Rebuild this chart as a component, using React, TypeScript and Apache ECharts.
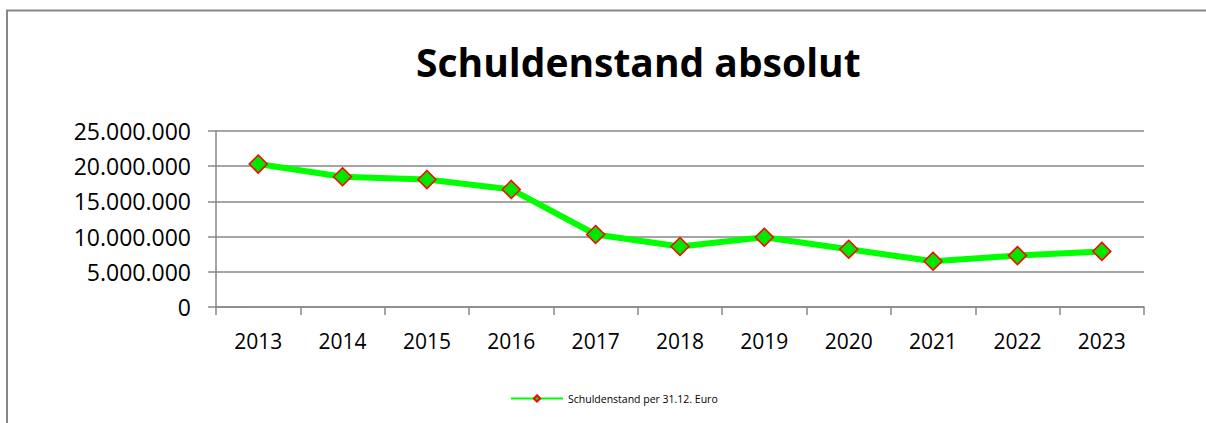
import React, { useEffect, useRef } from "react";
import * as echarts from "echarts";

const years = ["2013", "2014", "2015", "2016", "2017", "2018", "2019", "2020", "2021", "2022", "2023"];
const debt = [20300000, 18500000, 18100000, 16700000, 10300000, 8600000, 9900000, 8200000, 6500000, 7300000, 7900000];
const seriesName = "Schuldenstand per 31.12. Euro";
const titleText = "Schuldenstand absolut";

const fmt = (v: number) => String(Math.round(v)).replace(/\B(?=(\d{3})+(?!\d))/g, ".");

export default function App() {
  const ref = useRef<HTMLDivElement>(null);
  useEffect(() => {
    if (!ref.current) return;
    const chart = echarts.init(ref.current, null, { renderer: "svg" });
    const font = "'Open Sans', 'Noto Sans', sans-serif";
    chart.setOption({
      animation: false,
      backgroundColor: "#ffffff",
      title: {
        text: titleText,
        left: 411,
        top: 37,
        textStyle: { fontFamily: font, fontWeight: "bold", fontSize: 39, color: "#000" },
      },
      graphic: [
        {
          type: "polyline",
          shape: { points: [[7, 423], [7, 10.5], [1206, 10.5]] },
          style: { stroke: "#888888", lineWidth: 2, fill: "none" },
          silent: true,
        },
      ],
      legend: {
        left: 505,
        top: 388,
        itemWidth: 52,
        itemHeight: 8,
        itemGap: 6,
        textStyle: { fontFamily: font, fontSize: 10.5, color: "#000" },
        data: [seriesName],
      },
      grid: { left: 216, right: 62, top: 131, bottom: 116, containLabel: false },
      xAxis: {
        type: "category",
        data: years,
        boundaryGap: true,
        axisLine: { show: true, lineStyle: { color: "#888888", width: 1.5 } },
        axisTick: { show: true, length: 8, interval: 0, lineStyle: { color: "#888888", width: 1.5 } },
        axisLabel: { fontFamily: font, fontSize: 21, color: "#000", margin: 23, interval: 0 },
      },
      yAxis: {
        type: "value",
        min: 0,
        max: 25000000,
        interval: 5000000,
        axisLine: { show: true, lineStyle: { color: "#888888", width: 1.5 } },
        axisTick: { show: true, length: 8, lineStyle: { color: "#888888", width: 1.5 } },
        splitLine: { show: true, lineStyle: { color: "#888888", width: 1.5 } },
        axisLabel: { fontFamily: font, fontSize: 23, color: "#000", margin: 25, formatter: fmt },
      },
      series: [
        {
          name: seriesName,
          type: "line",
          data: debt,
          symbol: "diamond",
          symbolSize: 18,
          lineStyle: { color: "#00ff00", width: 6 },
          itemStyle: { color: "#00e600", borderColor: "#ff0000", borderWidth: 1.5 },
        },
      ],
    });
    return () => chart.dispose();
  }, []);
  return (
    <div
      ref={ref}
      style={{ position: "fixed", left: 0, top: 0, width: 1206, height: 423 }}
    />
  );
}
